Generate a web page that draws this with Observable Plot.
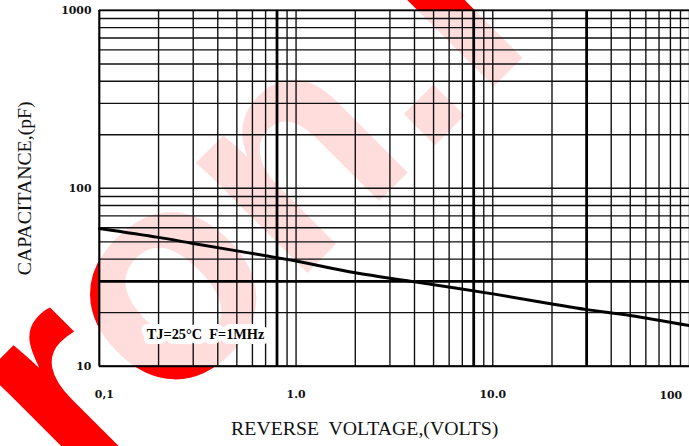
<!DOCTYPE html>
<html>
<head>
<meta charset="utf-8">
<script src="https://cdn.jsdelivr.net/npm/d3@7"></script>
<script src="https://cdn.jsdelivr.net/npm/@observablehq/plot@0.6"></script>
<style>
  html, body { margin: 0; padding: 0; background: #fff; overflow: hidden; }
  #wrap { width: 689px; height: 446px; overflow: hidden; position: relative; }
</style>
</head>
<body>
<div id="wrap"></div>
<script>
// ---- data ----
const voltage     = [0.1, 0.2, 0.3, 0.5, 1, 2, 4, 10, 20, 30, 50, 100];
const capacitance = [59.5, 53, 49, 44.5, 39, 33.5, 29.8, 25.5, 22.4, 20.8, 19.3, 16.9];

const xTickValues = [0.1, 1, 4, 10, 100];
const xTickLabels = ["0,1", "1.0", "4.0", "10.0", "100"];
const yTickValues = [10, 100, 1000];
const yTickLabels = ["10", "100", "1000"];

const xBold = [0.8, 8, 30];
const yBold = [30];

const xTitle = "REVERSE  VOLTAGE,(VOLTS)";
const yTitle = "CAPACITANCE,(pF)";
const note = "TJ=25°C  F=1MHz";
const watermark = "ron.r";

// log grid values (1..9 per decade)
const decadesX = [0.1, 1, 10];
const decadesY = [10, 100];
const xGrid = decadesX.flatMap(d => [1,2,3,4,5,6,7,8,9].map(m => +(m * d).toPrecision(3))).concat([100]);
const yGrid = decadesY.flatMap(d => [1,2,3,4,5,6,7,8,9].map(m => +(m * d).toPrecision(3))).concat([1000]);

const data = voltage.map((v, i) => ({v, c: capacitance[i]}));
const xLab = d => xTickLabels[xTickValues.indexOf(d)];
const yLab = d => yTickLabels[yTickValues.indexOf(d)];

const serif = "'DejaVu Serif', serif";
const gridColor = "#111";
const tickFont = {fontFamily: serif, fontWeight: "bold", fontSize: 11, fill: "#111"};

const chart = Plot.plot({
  width: 697,
  height: 446,
  marginLeft: 100,
  marginRight: 0,
  marginTop: 10,
  marginBottom: 76,
  style: {background: "transparent", overflow: "visible"},
  x: {type: "log", domain: [0.1, 100], axis: null},
  y: {type: "log", domain: [10, 1000], axis: null},
  marks: [
    Plot.frame({fill: "white", fillOpacity: 0.865, stroke: "none"}),
    Plot.ruleX(xGrid, {stroke: gridColor, strokeWidth: 1.4}),
    Plot.ruleY(yGrid, {stroke: gridColor, strokeWidth: 1.4}),
    Plot.ruleX(xBold, {stroke: "#000", strokeWidth: 2.8}),
    Plot.ruleY(yBold, {stroke: "#000", strokeWidth: 2.8}),
    Plot.ruleX([0.1], {stroke: "#000", strokeWidth: 2}),
    Plot.ruleY([10, 1000], {stroke: "#000", strokeWidth: 2}),
    Plot.line(data, {x: "v", y: "c", stroke: "#000", strokeWidth: 3, curve: "catmull-rom"}),
    Plot.text([note], {
      frameAnchor: "bottom-left", dx: 48, dy: -32, textAnchor: "start", lineAnchor: "middle",
      fontFamily: "'Liberation Serif', serif", fontWeight: "bold", fontSize: 14.5,
      fill: "#000", stroke: "white", strokeWidth: 10, paintOrder: "stroke"
    }),
    Plot.axisX([1, 10], {tickSize: 0, tickPadding: 24, tickFormat: xLab, label: null, ...tickFont}),
    Plot.axisX([4], {tickSize: 0, tickPadding: 27, tickFormat: xLab, label: null, dx: 2, ...tickFont}),
    Plot.axisX([0.1], {tickSize: 0, tickPadding: 24, tickFormat: xLab, label: null, dx: 5, ...tickFont}),
    Plot.axisX([100], {tickSize: 0, tickPadding: 25, tickFormat: xLab, label: null, dx: -19, ...tickFont}),
    Plot.axisY(yTickValues, {tickSize: 0, tickPadding: 8, tickFormat: yLab, label: null, ...tickFont}),
    Plot.text([xTitle], {
      frameAnchor: "bottom", dx: -30, dy: 70, lineAnchor: "bottom",
      fontFamily: "'Liberation Serif', serif", fontSize: 20, fill: "#111"
    }),
    Plot.text([yTitle], {
      frameAnchor: "left", dx: -69, rotate: -90, textAnchor: "middle", lineAnchor: "bottom",
      fontFamily: "'Liberation Serif', serif", fontSize: 20, fill: "#111"
    })
  ]
});

// watermark below the semi-opaque plot-area fill
d3.select(chart).insert("text", ":first-child")
  .attr("transform", "translate(84,503) rotate(-45)")
  .attr("text-anchor", "start")
  .attr("font-family", "'Liberation Sans', Arial, sans-serif")
  .attr("font-weight", "bold")
  .attr("font-size", 300)
  .attr("fill", "#ff0000")
  .text(watermark);

document.getElementById("wrap").appendChild(chart);
</script>
</body>
</html>
